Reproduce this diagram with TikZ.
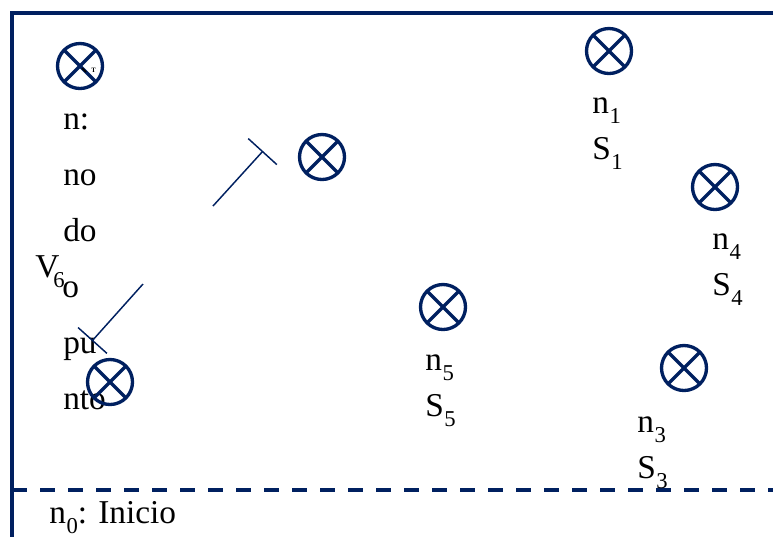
\documentclass[tikz,border=0pt]{standalone}
\usepackage{fontspec}
\setmainfont{Liberation Serif}
\usetikzlibrary{arrows.meta}
\definecolor{mynavy}{RGB}{0,32,96}
\newcommand{\mysub}[1]{\kern0.5pt\raisebox{-8pt}{\fontsize{17}{17}\selectfont #1}}
\tikzset{
  xcirc/.style={circle, draw=mynavy, line width=2.5pt, minimum size=33.75pt, inner sep=0pt,
    path picture={\draw[mynavy, line width=2.5pt]
      (path picture bounding box.north west) -- (path picture bounding box.south east)
      (path picture bounding box.north east) -- (path picture bounding box.south west);}},
  lbl/.style={anchor=base west, inner sep=0pt, font=\fontsize{25}{28}\selectfont, text=black},
  sublbl/.style={anchor=base west, inner sep=0pt, font=\fontsize{17}{17}\selectfont, text=black},
  frameline/.style={mynavy, line width=2.5pt},
  tbar/.style={mynavy, line width=1.1pt, -{Bar[width=29pt, line width=1.1pt]}}
}
\begin{document}
\begin{tikzpicture}[x=0.75pt, y=-0.75pt]
\useasboundingbox (0,0) rectangle (773,537);
% frame
\coordinate (ftr) at (773,13);
\coordinate (ftl) at (12,13);
\coordinate (fbl) at (12,537);
\draw[frameline, line join=miter] (ftr) -- (ftl) -- (fbl);
\coordinate (dl) at (12,490);
\coordinate (dr) at (773,490);
\draw[frameline, dash pattern=on 11pt off 10pt] (dl) -- (dr);

% left column text
\node[lbl] (t1) at (63,129) {n:};
\node[lbl] (t2) at (63,185) {no};
\node[lbl] (t3) at (63,241) {do};
\node[lbl] (tv) at (35,277) {V};
\node[sublbl] (t6) at (53,287) {6};
\node[lbl] (t4) at (62,297) {o};
\node[lbl] (t5) at (63,353) {pu};
\node[lbl] (t7) at (63,409) {nto};
\node[lbl] (n0) at (49,523) {n\mysub{0}: Inicio};

% labels
\node[lbl] (n1) at (592,113) {n\mysub{1}};
\node[lbl] (s1) at (592,159) {S\mysub{1}};
\node[lbl] (n4) at (712,249) {n\mysub{4}};
\node[lbl] (s4) at (712,295) {S\mysub{4}};
\node[lbl] (n5) at (425,370) {n\mysub{5}};
\node[lbl] (s5) at (425,416) {S\mysub{5}};
\node[lbl] (n3) at (637,432) {n\mysub{3}};
\node[lbl] (s3) at (637,478) {S\mysub{3}};

% circles
\node[xcirc] (c6) at (80,66) {};
\node[xcirc] (ca) at (322,157) {};
\node[xcirc] (c1) at (609,51) {};
\node[xcirc] (c4) at (715,187) {};
\node[xcirc] (c5) at (443,307) {};
\node[xcirc] (c3) at (684,368) {};
\node[xcirc] (cb) at (110,382) {};

% tiny mark inside top-left circle
\coordinate (m1) at (82,68);
\coordinate (m2) at (86,72);
\draw[black, line width=1.3pt] (m1) -- (m2);
\node[anchor=base west, inner sep=0pt, font=\fontsize{5}{5}\selectfont\bfseries] (mt) at (91,72) {T};

% T-bar lines
\coordinate (a1) at (213,206);
\coordinate (b1) at (263,151);
\draw[tbar] (a1) -- (b1);
\coordinate (a2) at (143,284);
\coordinate (b2) at (92,341);
\draw[tbar] (a2) -- (b2);
\end{tikzpicture}
\end{document}
